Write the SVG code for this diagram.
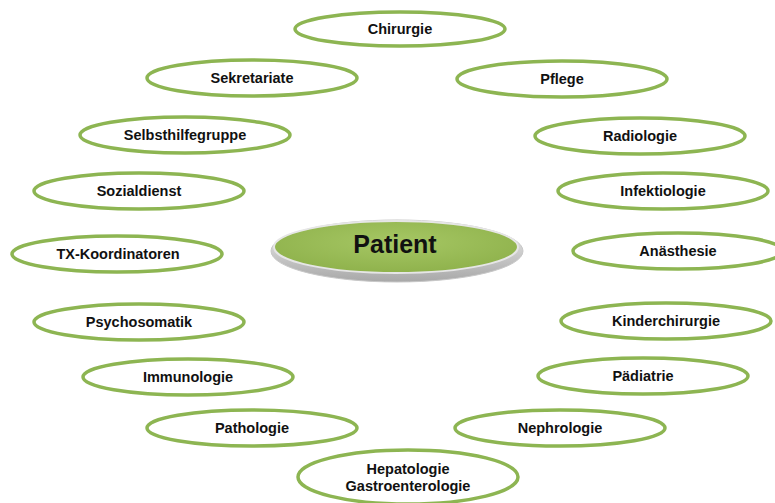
<svg xmlns="http://www.w3.org/2000/svg" width="775" height="503" viewBox="0 0 775 503">
<defs>
<radialGradient id="pg" cx="50%" cy="40%" r="60%">
<stop offset="0" stop-color="#a6c764"/>
<stop offset="1" stop-color="#8fb24c"/>
</radialGradient>
<linearGradient id="rim" x1="0" y1="0" x2="0" y2="1">
<stop offset="0" stop-color="#f4f4f4"/>
<stop offset="1" stop-color="#a8a8a8"/>
</linearGradient>
</defs>
<style>
.n ellipse{fill:#fff;stroke:#8db552;stroke-width:3.5}
.t{font-family:"Liberation Sans",Arial,sans-serif;font-weight:bold;font-size:14.5px;fill:#111;text-anchor:middle}
.pt{font-family:"Liberation Sans",Arial,sans-serif;font-weight:bold;font-size:25px;fill:#111;text-anchor:middle}
</style>
<rect width="775" height="503" fill="#fff"/>
<g id="connectors"></g>
<g id="patient">
<ellipse cx="397" cy="251" rx="126" ry="31" fill="url(#rim)" stroke="#c8c8c8" stroke-width="1"/>
<ellipse cx="396" cy="247" rx="122" ry="26" fill="url(#pg)" stroke="#e6e6e6" stroke-width="2"/>
<text class="pt" x="395" y="253">Patient</text>
</g>
<g id="chirurgie" class="n"><ellipse cx="400" cy="29" rx="105" ry="17"/><text class="t" x="400" y="34">Chirurgie</text></g>
<g id="sekretariate" class="n"><ellipse cx="252" cy="78" rx="105" ry="18"/><text class="t" x="252" y="83">Sekretariate</text></g>
<g id="pflege" class="n"><ellipse cx="562" cy="79" rx="105" ry="18"/><text class="t" x="562" y="84">Pflege</text></g>
<g id="selbsthilfegruppe" class="n"><ellipse cx="185" cy="135" rx="105" ry="18"/><text class="t" x="185" y="140">Selbsthilfegruppe</text></g>
<g id="radiologie" class="n"><ellipse cx="640" cy="136" rx="105" ry="18"/><text class="t" x="640" y="141">Radiologie</text></g>
<g id="sozialdienst" class="n"><ellipse cx="139" cy="191" rx="105" ry="18"/><text class="t" x="139" y="196">Sozialdienst</text></g>
<g id="infektiologie" class="n"><ellipse cx="663" cy="191" rx="105" ry="18"/><text class="t" x="663" y="196">Infektiologie</text></g>
<g id="tx-koordinatoren" class="n"><ellipse cx="117" cy="254" rx="105" ry="18"/><text class="t" x="118" y="259">TX-Koordinatoren</text></g>
<g id="anaesthesie" class="n"><ellipse cx="678" cy="251" rx="105" ry="18"/><text class="t" x="678" y="256">Anästhesie</text></g>
<g id="psychosomatik" class="n"><ellipse cx="139" cy="322" rx="105" ry="18"/><text class="t" x="139" y="327">Psychosomatik</text></g>
<g id="kinderchirurgie" class="n"><ellipse cx="666" cy="321" rx="105" ry="18"/><text class="t" x="666" y="326">Kinderchirurgie</text></g>
<g id="immunologie" class="n"><ellipse cx="188" cy="377" rx="105" ry="18"/><text class="t" x="188" y="382">Immunologie</text></g>
<g id="paediatrie" class="n"><ellipse cx="643" cy="376" rx="105" ry="18"/><text class="t" x="643" y="381">Pädiatrie</text></g>
<g id="pathologie" class="n"><ellipse cx="252" cy="428" rx="105" ry="18"/><text class="t" x="252" y="433">Pathologie</text></g>
<g id="nephrologie" class="n"><ellipse cx="560" cy="428" rx="105" ry="18"/><text class="t" x="560" y="433">Nephrologie</text></g>
<g id="hepatologie" class="n"><ellipse cx="408" cy="477" rx="110" ry="27"/><text class="t" x="408" y="474">Hepatologie</text><text class="t" x="408" y="491">Gastroenterologie</text></g>
</svg>
